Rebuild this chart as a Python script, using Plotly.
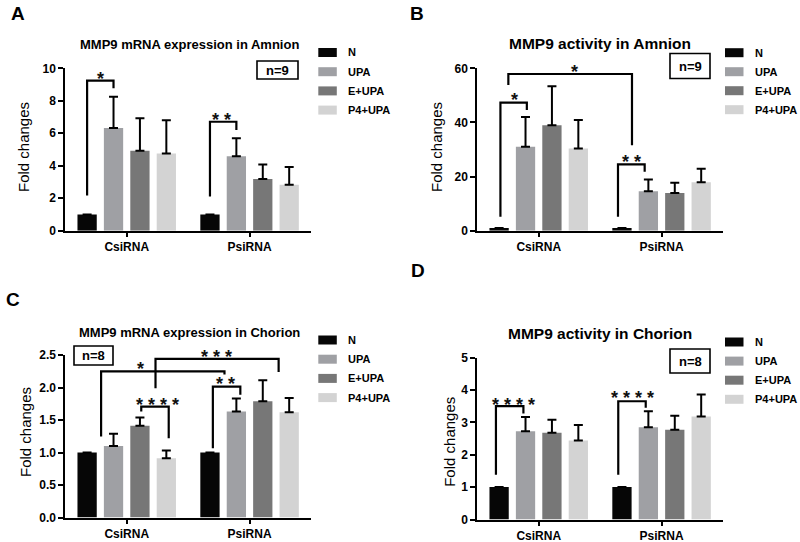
import plotly.graph_objects as go

# ---------------- data ----------------
categories = ["CsiRNA", "PsiRNA"]
series = ["N", "UPA", "E+UPA", "P4+UPA"]
colors = ["#060606", "#9fa0a4", "#777777", "#d3d3d3"]

# Panel A: MMP9 mRNA expression in Amnion (mean per series: [CsiRNA, PsiRNA])
A_N = [1.0, 1.0];     A_N_sem = [0.0, 0.0]
A_UPA = [6.32, 4.58]; A_UPA_sem = [1.93, 1.11]
A_E = [4.93, 3.18];   A_E_sem = [1.99, 0.89]
A_P4 = [4.76, 2.83];  A_P4_sem = [2.04, 1.09]

# Panel B: MMP9 activity in Amnion
B_N = [1.0, 1.0];     B_N_sem = [0.0, 0.0]
B_UPA = [31.0, 14.6]; B_UPA_sem = [11.0, 4.3]
B_E = [39.0, 13.9];   B_E_sem = [14.4, 3.8]
B_P4 = [30.4, 17.9];  B_P4_sem = [10.5, 5.0]

# Panel C: MMP9 mRNA expression in Chorion
C_N = [1.0, 1.0];     C_N_sem = [0.0, 0.0]
C_UPA = [1.10, 1.63]; C_UPA_sem = [0.19, 0.20]
C_E = [1.41, 1.79];   C_E_sem = [0.13, 0.32]
C_P4 = [0.91, 1.62];  C_P4_sem = [0.12, 0.22]

# Panel D: MMP9 activity in Chorion
D_N = [1.0, 1.0];     D_N_sem = [0.0, 0.0]
D_UPA = [2.72, 2.85]; D_UPA_sem = [0.44, 0.49]
D_E = [2.68, 2.77];   D_E_sem = [0.40, 0.43]
D_P4 = [2.44, 3.18];  D_P4_sem = [0.48, 0.68]

titles = ["MMP9 mRNA expression in Amnion", "MMP9 activity in Amnion",
          "MMP9 mRNA expression in Chorion", "MMP9 activity in Chorion"]
panel_letters = ["A", "B", "C", "D"]
n_labels = ["n=9", "n=9", "n=8", "n=8"]
y_ticks = [[0, 2, 4, 6, 8, 10], [0, 20, 40, 60],
           [0.0, 0.5, 1.0, 1.5, 2.0, 2.5], [0, 1, 2, 3, 4, 5]]

# significance brackets:
# (group1, slot1, y_start, group2, slot2, y_top, y_end, label, label_group, label_slot, label_y)
A_sig = [(0, 0.0, 2.16, 0, 1.0, 9.24, 8.77, "*", 0, 0.5, 9.65),
         (1, 0.0, 2.10, 1, 1.0, 6.71, 6.20, "* *", 1, 0.45, 7.12)]
B_sig = [(0, 0.05, 5.2, 0, 1.05, 47.3, 44.6, "*", 0, 0.58, 50.1),
         (0, 0.35, 53.8, 1, 0.38, 57.9, 31.6, "*", 0, 2.85, 60.4),
         (1, -0.15, 5.2, 1, 0.86, 24.5, 21.8, "* *", 1, 0.36, 27.2)]
C_sig = [(0, 0.53, 1.245, 1, 0.55, 2.247, 2.20, "*", 0, 2.02, 2.365),
         (0, 2.59, 1.99, 1, 2.60, 2.44, 2.237, "* * *", 0, 4.91, 2.55),
         (1, 0.11, 1.066, 1, 1.15, 2.015, 1.888, "* *", 1, 0.60, 2.13),
         (0, 2.05, 1.63, 0, 3.09, 1.707, 1.22, "* * * *", 0, 2.68, 1.81)]
D_sig = [(0, -0.12, 1.38, 0, 0.92, 3.50, 3.27, "* * * *", 0, 0.54, 3.69),
         (1, -0.14, 1.38, 1, 0.90, 3.65, 3.45, "* * * *", 1, 0.40, 3.90)]

# ---------------- layout geometry (pixels) ----------------
W, H = 800, 542
BARGAP, BARGROUPGAP = 0.14, 0.27
FONT = "Arial, Liberation Sans, sans-serif"


def fx(p):
    return p / W


def fy(p):
    return 1 - p / H


def bc(g, s):
    return g + (s - 1.5) * (1 - BARGAP) / 4


panels = [
    dict(means=[A_N, A_UPA, A_E, A_P4], sems=[A_N_sem, A_UPA_sem, A_E_sem, A_P4_sem],
         xpx=(65.3, 311.0), ypx=(68.3, 230.7), yr=[0, 10], fmt="", sig=A_sig,
         title_xy=(189, 45), title_size=13, letter_xy=(17.5, 13.5),
         nbox=(257, 61, 298, 79), ytitle_xy=(23.5, 147.5),
         leg_sw=318.3, leg_y0=52.5, leg_step=19.2),
    dict(means=[B_N, B_UPA, B_E, B_P4], sems=[B_N_sem, B_UPA_sem, B_E_sem, B_P4_sem],
         xpx=(477.3, 723.0), ypx=(68.3, 230.7), yr=[0, 60], fmt="", sig=B_sig,
         title_xy=(600, 43.5), title_size=15.5, letter_xy=(416.5, 14),
         nbox=(670, 53.5, 710, 78.5), ytitle_xy=(436, 147),
         leg_sw=725, leg_y0=52.7, leg_step=19.0),
    dict(means=[C_N, C_UPA, C_E, C_P4], sems=[C_N_sem, C_UPA_sem, C_E_sem, C_P4_sem],
         xpx=(65.3, 311.0), ypx=(355.0, 517.5), yr=[0, 2.5], fmt=".1f", sig=C_sig,
         title_xy=(189, 332.7), title_size=13, letter_xy=(13, 299),
         nbox=(74, 346, 113, 365), ytitle_xy=(25, 432),
         leg_sw=318.3, leg_y0=340.0, leg_step=19.2),
    dict(means=[D_N, D_UPA, D_E, D_P4], sems=[D_N_sem, D_UPA_sem, D_E_sem, D_P4_sem],
         xpx=(477.3, 723.0), ypx=(357.5, 519.5), yr=[0, 5], fmt="", sig=D_sig,
         title_xy=(600, 333.7), title_size=15.5, letter_xy=(418, 270),
         nbox=(670, 349, 710, 373), ytitle_xy=(450, 441.8),
         leg_sw=725, leg_y0=342.0, leg_step=19.1),
]

fig = go.Figure()
shapes = []
annotations = []
layout_axes = {}

for i, p in enumerate(panels):
    k = i + 1
    xa = "x" if k == 1 else f"x{k}"
    ya = "y" if k == 1 else f"y{k}"
    for s, name in enumerate(series):
        fig.add_trace(go.Bar(
            x=[0, 1], y=p["means"][s], name=name, xaxis=xa, yaxis=ya,
            marker=dict(color=colors[s], line=dict(width=0)),
            error_y=dict(type="data", array=p["sems"][s], arrayminus=[0, 0],
                         symmetric=False, color="black", thickness=2, width=4.5),
            showlegend=False, hoverinfo="skip"))
    axfont = dict(family=FONT, size=12, color="black", weight="bold")
    layout_axes["xaxis" if k == 1 else f"xaxis{k}"] = dict(
        domain=[fx(p["xpx"][0]), fx(p["xpx"][1])], range=[-0.5, 1.5],
        tickvals=[0, 1], ticktext=categories, anchor=ya, automargin=False,
        showline=True, linecolor="black", linewidth=2, ticks="outside",
        ticklen=4, tickwidth=2, tickcolor="black", showgrid=False,
        zeroline=False, tickfont=axfont, fixedrange=True)
    layout_axes["yaxis" if k == 1 else f"yaxis{k}"] = dict(
        domain=[fy(p["ypx"][1]), fy(p["ypx"][0])], range=p["yr"],
        tickvals=y_ticks[i], tickformat=p["fmt"], anchor=xa, automargin=False,
        showline=True, linecolor="black", linewidth=2, ticks="outside",
        ticklen=5, tickwidth=2, tickcolor="black", showgrid=False,
        zeroline=False, tickfont=axfont, fixedrange=True)

    ylo, yhi = p["yr"]
    py0, py1 = p["ypx"]  # pixel of top (yhi) and bottom (ylo)

    def to_paper_y(v, ylo=ylo, yhi=yhi, py0=py0, py1=py1):
        return fy(py1 - (v - ylo) / (yhi - ylo) * (py1 - py0))

    # significance brackets
    for (g1, s1, y1, g2, s2, yt, y2, lab, lg, ls, ly) in p["sig"]:
        x1, x2 = bc(g1, s1), bc(g2, s2)
        shapes.append(dict(type="path", xref=xa, yref=ya,
                           path=f"M {x1},{y1} L {x1},{yt} L {x2},{yt} L {x2},{y2}",
                           line=dict(color="black", width=2.2)))
        annotations.append(dict(x=bc(lg, ls), y=to_paper_y(ly), xref=xa, yref="paper",
                                text=lab, showarrow=False, xanchor="center",
                                yanchor="middle", yshift=-5,
                                font=dict(family=FONT, size=18, color="#111",
                                          weight="bold")))

    # title
    tx, ty = p["title_xy"]
    annotations.append(dict(x=fx(tx), y=fy(ty), xref="paper", yref="paper",
                            text=titles[i], showarrow=False, xanchor="center",
                            yanchor="middle",
                            font=dict(family=FONT, size=p["title_size"], color="black",
                                      weight="bold")))
    # panel letter
    lx, ly_ = p["letter_xy"]
    annotations.append(dict(x=fx(lx), y=fy(ly_), xref="paper", yref="paper",
                            text=panel_letters[i], showarrow=False, xanchor="center",
                            yanchor="middle",
                            font=dict(family=FONT, size=19, color="black", weight="bold")))
    # y axis title
    yx, yy = p["ytitle_xy"]
    annotations.append(dict(x=fx(yx), y=fy(yy), xref="paper", yref="paper",
                            text="Fold changes", showarrow=False, textangle=-90,
                            xanchor="center", yanchor="middle",
                            font=dict(family=FONT, size=15, color="black")))
    # n box
    bx0, by0, bx1, by1 = p["nbox"]
    shapes.append(dict(type="rect", xref="paper", yref="paper",
                       x0=fx(bx0), x1=fx(bx1), y0=fy(by1), y1=fy(by0),
                       line=dict(color="black", width=1.6)))
    annotations.append(dict(x=fx((bx0 + bx1) / 2), y=fy((by0 + by1) / 2),
                            xref="paper", yref="paper", text=n_labels[i],
                            showarrow=False, xanchor="center", yanchor="middle",
                            font=dict(family=FONT, size=13, color="black", weight="bold")))
    # legend (manual)
    for s, name in enumerate(series):
        cy = p["leg_y0"] + s * p["leg_step"]
        sx = p["leg_sw"]
        shapes.append(dict(type="rect", xref="paper", yref="paper",
                           x0=fx(sx), x1=fx(sx + 18.5), y0=fy(cy + 4.5), y1=fy(cy - 4.5),
                           fillcolor=colors[s], line=dict(width=0)))
        annotations.append(dict(x=fx(sx + 28), y=fy(cy), xref="paper", yref="paper",
                                text=name, showarrow=False, xanchor="left",
                                yanchor="middle",
                                font=dict(family=FONT, size=11, color="black",
                                          weight="bold")))

fig.update_layout(
    width=W, height=H, margin=dict(l=0, r=0, t=0, b=0, pad=0, autoexpand=False),
    paper_bgcolor="white", plot_bgcolor="white",
    barmode="group", bargap=BARGAP, bargroupgap=BARGROUPGAP,
    showlegend=False, shapes=shapes, annotations=annotations,
    font=dict(family=FONT, color="black"),
    **layout_axes)

fig.write_html("out.html", config={"displayModeBar": False},
               post_script="document.body.style.margin='0';document.body.style.overflow='hidden';")
